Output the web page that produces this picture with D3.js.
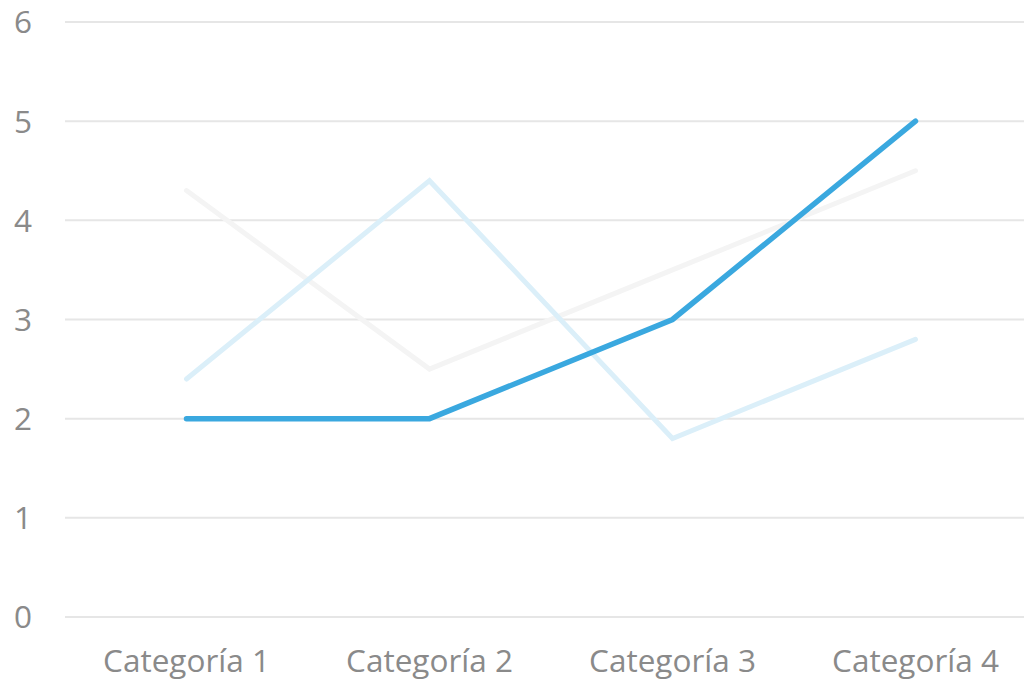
<!DOCTYPE html>
<html><head><meta charset="utf-8">
<script src="https://cdn.jsdelivr.net/npm/d3@7"></script>
<style>html,body{margin:0;padding:0;background:#fff;overflow:hidden}</style>
</head><body><svg id="c" width="1024" height="681"></svg>
<script>
const categories = ["Categoría 1","Categoría 2","Categoría 3","Categoría 4"];
const yTicks = [0,1,2,3,4,5,6];
const seriesGray = [4.3, 2.5, 3.5, 4.5];
const seriesLight = [2.4, 4.4, 1.8, 2.8];
const seriesDark = [2, 2, 3, 5];

const svg = d3.select("#c");
const x = d3.scaleBand().domain(categories).range([65, 1037]);
const y = d3.scaleLinear().domain([0,6]).range([617, 22]);
const font = "'Open Sans', sans-serif";

svg.append("g").selectAll("line").data(yTicks).join("line")
  .attr("x1", 65).attr("x2", 1024)
  .attr("y1", d => y(d)).attr("y2", d => y(d))
  .attr("stroke", "#e6e6e6").attr("stroke-width", 2);

svg.append("g").selectAll("text").data(yTicks).join("text")
  .attr("x", 23).attr("y", d => y(d)).attr("dy", "0.36em")
  .attr("text-anchor", "middle")
  .attr("font-family", font).attr("font-size", 31.5).attr("fill", "#8a8a8a")
  .text(d => d);

svg.append("g").selectAll("text").data(categories).join("text")
  .attr("x", d => x(d) + x.bandwidth()/2).attr("y", 672)
  .attr("text-anchor", "middle")
  .attr("font-family", font).attr("font-size", 31.5).attr("fill", "#8a8a8a")
  .text(d => d);

const line = d3.line().x((d,i) => x(categories[i]) + x.bandwidth()/2).y(d => y(d));
[[seriesGray, "#f4f4f4", 5], [seriesLight, "#dbeff9", 5], [seriesDark, "#3aa8df", 5.5]].forEach(([s, c, w]) => {
  svg.append("path").datum(s).attr("d", line)
    .attr("fill", "none").attr("stroke", c).attr("stroke-width", w)
    .attr("stroke-linecap", "round").attr("stroke-linejoin", "miter");
});
</script></body></html>
